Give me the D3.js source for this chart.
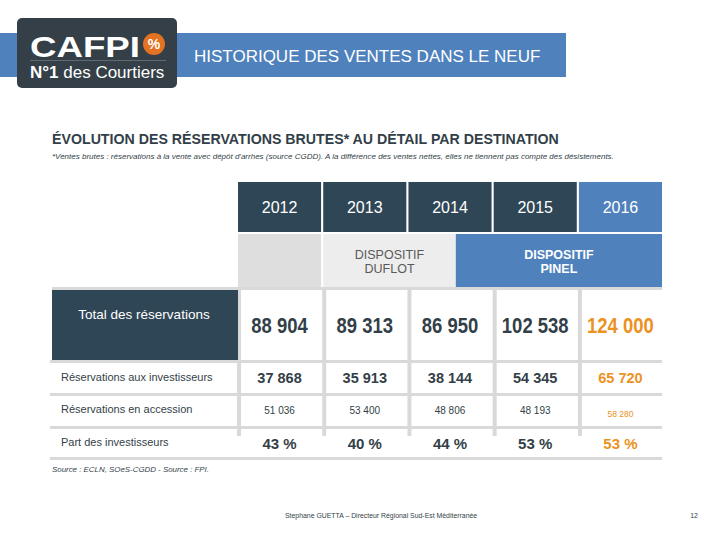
<!DOCTYPE html>
<html><head><meta charset="utf-8">
<script src="https://cdn.jsdelivr.net/npm/d3@7"></script>
<style>html,body{margin:0;padding:0;background:#fff}svg{display:block}</style>
</head><body>
<script>
// ---- data ----
const years = ["2012", "2013", "2014", "2015", "2016"];
const totals = [88904, 89313, 86950, 102538, 124000];
const investors = [37868, 35913, 38144, 54345, 65720];
const accession = [51036, 53400, 48806, 48193, 58280];
const investorShare = [43, 40, 44, 53, 53];
const rowLabels = ["Total des réservations", "Réservations aux investisseurs", "Réservations en accession", "Part des investisseurs"];
const schemeDuflot = ["DISPOSITIF", "DUFLOT"];
const schemePinel = ["DISPOSITIF", "PINEL"];
const highlightYear = "2016";

const W = 720, H = 540;
const FONT = "'Liberation Sans', Arial, sans-serif";
const DARK = "#2f4657", BLUE = "#4f81bd", TXT = "#333f48", ORANGE = "#eb9223", GRID = "#d9d9d9";

const loc = d3.formatLocale({decimal: ",", thousands: " ", grouping: [3], currency: ["", "€"]});
const fmt = loc.format(",d");

const svg = d3.select("body").append("svg").attr("width", W).attr("height", H)
  .style("font-family", FONT);
svg.append("rect").attr("width", W).attr("height", H).attr("fill", "#fff");

// ---- banner ----
svg.append("rect").attr("x", 0).attr("y", 33).attr("width", 566).attr("height", 44).attr("fill", BLUE);
svg.append("text").attr("x", 194).attr("y", 62).attr("fill", "#fff").attr("font-size", 17)
  .text("HISTORIQUE DES VENTES DANS LE NEUF");
// logo
svg.append("rect").attr("x", 17).attr("y", 18).attr("width", 160).attr("height", 70).attr("rx", 5).attr("fill", "#343f48");
svg.append("text").attr("x", 30).attr("y", 57).attr("fill", "#fff").attr("font-size", 30).attr("font-weight", 900)
  .attr("textLength", 110).attr("lengthAdjust", "spacingAndGlyphs").text("CAFPI");
svg.append("circle").attr("cx", 154).attr("cy", 44).attr("r", 11).attr("fill", "#e37222");
svg.append("text").attr("x", 154).attr("y", 49).attr("text-anchor", "middle").attr("fill", "#fff")
  .attr("font-size", 14).attr("font-weight", 700).text("%");
svg.append("line").attr("x1", 30).attr("x2", 166).attr("y1", 60.5).attr("y2", 60.5).attr("stroke", "#6b757d").attr("stroke-width", 0.8);
const lg = svg.append("text").attr("x", 30).attr("y", 78).attr("fill", "#fff").attr("font-size", 17);
lg.append("tspan").attr("font-weight", 700).text("N°1");
lg.append("tspan").text(" des Courtiers");

// ---- titles ----
svg.append("text").attr("x", 52).attr("y", 144).attr("fill", TXT).attr("font-size", 14.2).attr("font-weight", 700)
  .text("ÉVOLUTION DES RÉSERVATIONS BRUTES* AU DÉTAIL PAR DESTINATION");
svg.append("text").attr("x", 52).attr("y", 159).attr("fill", TXT).attr("font-size", 8).attr("font-style", "italic")
  .text("*Ventes brutes : réservations à la vente avec dépôt d'arrhes (source CGDD). A la différence des ventes nettes, elles ne tiennent pas compte des désistements.");

// ---- table ----
const x = d3.scaleBand().domain(years).range([238, 662]).paddingInner(0.025);
const bw = x.bandwidth();
const cx = d => x(d) + bw / 2;

// header row
const hdr = svg.append("g");
hdr.selectAll("rect").data(years).join("rect")
  .attr("x", d => x(d)).attr("y", 182).attr("width", bw).attr("height", 50)
  .attr("fill", d => d === highlightYear ? BLUE : DARK);
hdr.selectAll("text").data(years).join("text")
  .attr("x", cx).attr("y", 213).attr("text-anchor", "middle").attr("fill", "#fff").attr("font-size", 16)
  .text(d => d);

// scheme row
const split = x("2014") + bw * 0.57;
svg.append("rect").attr("x", x("2012")).attr("y", 234).attr("width", bw).attr("height", 53).attr("fill", "#dedede");
svg.append("rect").attr("x", x("2013")).attr("y", 234).attr("width", split - x("2013")).attr("height", 53).attr("fill", "#ededed");
svg.append("rect").attr("x", split).attr("y", 234).attr("width", x("2016") + bw - split).attr("height", 53).attr("fill", BLUE);
svg.append("g").selectAll("text").data(schemeDuflot).join("text")
  .attr("x", (x("2013") + split) / 2).attr("y", (d, i) => 259 + i * 13.5).attr("text-anchor", "middle")
  .attr("fill", "#595959").attr("font-size", 12.5).text(d => d);
svg.append("g").selectAll("text").data(schemePinel).join("text")
  .attr("x", (split + x("2016") + bw) / 2).attr("y", (d, i) => 259 + i * 13.5).attr("text-anchor", "middle")
  .attr("fill", "#fff").attr("font-size", 12.5).attr("font-weight", 700).text(d => d);

// grid
const gridG = svg.append("g");
gridG.append("rect").attr("x", 52).attr("y", 287).attr("width", 610).attr("height", 3).attr("fill", GRID);
gridG.selectAll("rect.v").data(years).join("rect").attr("class", "v")
  .attr("x", d => x(d) - 1).attr("y", 287).attr("width", 4).attr("height", 149).attr("fill", GRID);
[360, 393, 426, 457].forEach(yy => gridG.append("rect").attr("x", 50).attr("y", yy).attr("width", 612).attr("height", 3).attr("fill", GRID));

// total row
svg.append("rect").attr("x", 52).attr("y", 290).attr("width", 186).attr("height", 70).attr("fill", DARK);
svg.append("text").attr("x", 144).attr("y", 319).attr("text-anchor", "middle").attr("fill", "#fff")
  .attr("font-size", 13.5).text(rowLabels[0]);
svg.append("g").selectAll("text").data(years).join("text")
  .attr("transform", d => `translate(${cx(d)},333) scale(0.84,1)`)
  .attr("text-anchor", "middle")
  .attr("font-size", 22).attr("font-weight", 700)
  .attr("fill", d => d === highlightYear ? ORANGE : TXT)
  .text((d, i) => fmt(totals[i]));

// other rows labels
[[381, rowLabels[1]], [413, rowLabels[2]], [446, rowLabels[3]]].forEach(([yy, t]) =>
  svg.append("text").attr("x", 61).attr("y", yy).attr("fill", TXT).attr("font-size", 11).text(t));

svg.append("g").selectAll("text").data(years).join("text")
  .attr("x", cx).attr("y", 383).attr("text-anchor", "middle").attr("font-size", 14.5).attr("font-weight", 700)
  .attr("fill", d => d === highlightYear ? ORANGE : TXT)
  .text((d, i) => fmt(investors[i]));
svg.append("g").selectAll("text").data(years).join("text")
  .attr("x", cx).attr("y", d => d === highlightYear ? 417 : 414).attr("text-anchor", "middle")
  .attr("font-size", d => d === highlightYear ? 8.5 : 10)
  .attr("fill", d => d === highlightYear ? ORANGE : TXT)
  .text((d, i) => fmt(accession[i]));
svg.append("g").selectAll("text").data(years).join("text")
  .attr("x", cx).attr("y", 449).attr("text-anchor", "middle").attr("font-size", 15).attr("font-weight", 700)
  .attr("fill", d => d === highlightYear ? ORANGE : TXT)
  .text((d, i) => investorShare[i] + " %");

// source & footer
svg.append("text").attr("x", 52).attr("y", 472).attr("fill", TXT).attr("font-size", 7.9).attr("font-style", "italic")
  .text("Source : ECLN, SOeS-CGDD - Source : FPI.");
svg.append("text").attr("x", 285).attr("y", 518).attr("fill", TXT).attr("font-size", 6.9)
  .text("Stephane GUETTA – Directeur Régional Sud-Est Méditerranée");
svg.append("text").attr("x", 698).attr("y", 518).attr("text-anchor", "end").attr("fill", TXT).attr("font-size", 7)
  .text("12");
</script>
</body></html>
